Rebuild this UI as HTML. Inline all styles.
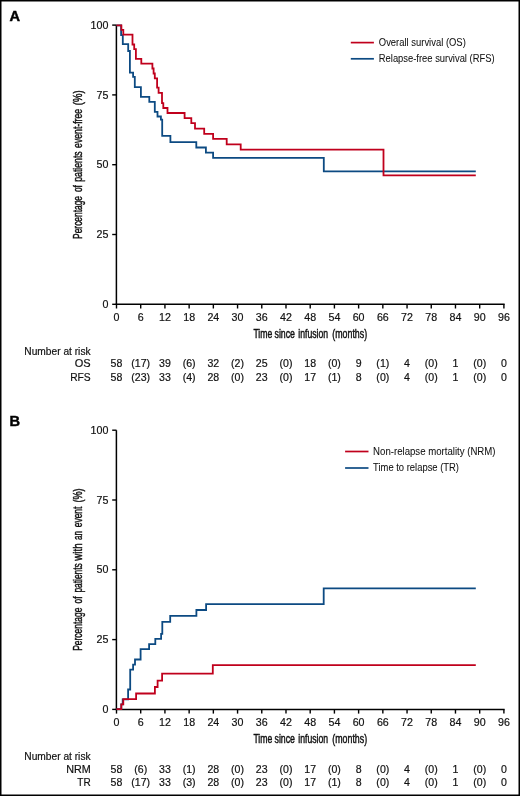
<!DOCTYPE html>
<html><head><meta charset="utf-8"><style>
html,body{margin:0;padding:0;background:#fff;}
svg{display:block;will-change:transform;}
text{font-family:"Liberation Sans", sans-serif;fill:#111;stroke:#111;stroke-width:0.18px;}
</style></head><body>
<svg width="520" height="796" viewBox="0 0 520 796">
<rect x="0" y="0" width="520" height="796" fill="#fff"/>
<text x="9.5" y="21.10" font-size="14.6" font-weight="bold" style="fill:#000;stroke:#000;stroke-width:0.45px">A</text>
<path d="M116.40,25.10 V304.30" stroke="#000" stroke-width="1.5" fill="none"/>
<path d="M115.65,304.30 H504.65" stroke="#000" stroke-width="1.5" fill="none"/>
<path d="M112.2,25.10 H116.50" stroke="#000" stroke-width="1.4"/>
<text transform="translate(108.40,28.70) scale(1.07,1)" font-size="10" text-anchor="end">100</text>
<path d="M112.2,94.90 H116.50" stroke="#000" stroke-width="1.4"/>
<text transform="translate(108.40,98.50) scale(1.07,1)" font-size="10" text-anchor="end">75</text>
<path d="M112.2,164.70 H116.50" stroke="#000" stroke-width="1.4"/>
<text transform="translate(108.40,168.30) scale(1.07,1)" font-size="10" text-anchor="end">50</text>
<path d="M112.2,234.50 H116.50" stroke="#000" stroke-width="1.4"/>
<text transform="translate(108.40,238.10) scale(1.07,1)" font-size="10" text-anchor="end">25</text>
<path d="M112.2,304.30 H116.50" stroke="#000" stroke-width="1.4"/>
<text transform="translate(108.40,307.90) scale(1.07,1)" font-size="10" text-anchor="end">0</text>
<path d="M116.50,304.30 V308.50" stroke="#000" stroke-width="1.4"/>
<text transform="translate(116.50,321.00) scale(1.07,1)" font-size="10" text-anchor="middle">0</text>
<path d="M140.71,304.30 V308.50" stroke="#000" stroke-width="1.4"/>
<text transform="translate(140.71,321.00) scale(1.07,1)" font-size="10" text-anchor="middle">6</text>
<path d="M164.93,304.30 V308.50" stroke="#000" stroke-width="1.4"/>
<text transform="translate(164.93,321.00) scale(1.07,1)" font-size="10" text-anchor="middle">12</text>
<path d="M189.14,304.30 V308.50" stroke="#000" stroke-width="1.4"/>
<text transform="translate(189.14,321.00) scale(1.07,1)" font-size="10" text-anchor="middle">18</text>
<path d="M213.35,304.30 V308.50" stroke="#000" stroke-width="1.4"/>
<text transform="translate(213.35,321.00) scale(1.07,1)" font-size="10" text-anchor="middle">24</text>
<path d="M237.56,304.30 V308.50" stroke="#000" stroke-width="1.4"/>
<text transform="translate(237.56,321.00) scale(1.07,1)" font-size="10" text-anchor="middle">30</text>
<path d="M261.77,304.30 V308.50" stroke="#000" stroke-width="1.4"/>
<text transform="translate(261.77,321.00) scale(1.07,1)" font-size="10" text-anchor="middle">36</text>
<path d="M285.99,304.30 V308.50" stroke="#000" stroke-width="1.4"/>
<text transform="translate(285.99,321.00) scale(1.07,1)" font-size="10" text-anchor="middle">42</text>
<path d="M310.20,304.30 V308.50" stroke="#000" stroke-width="1.4"/>
<text transform="translate(310.20,321.00) scale(1.07,1)" font-size="10" text-anchor="middle">48</text>
<path d="M334.41,304.30 V308.50" stroke="#000" stroke-width="1.4"/>
<text transform="translate(334.41,321.00) scale(1.07,1)" font-size="10" text-anchor="middle">54</text>
<path d="M358.62,304.30 V308.50" stroke="#000" stroke-width="1.4"/>
<text transform="translate(358.62,321.00) scale(1.07,1)" font-size="10" text-anchor="middle">60</text>
<path d="M382.84,304.30 V308.50" stroke="#000" stroke-width="1.4"/>
<text transform="translate(382.84,321.00) scale(1.07,1)" font-size="10" text-anchor="middle">66</text>
<path d="M407.05,304.30 V308.50" stroke="#000" stroke-width="1.4"/>
<text transform="translate(407.05,321.00) scale(1.07,1)" font-size="10" text-anchor="middle">72</text>
<path d="M431.26,304.30 V308.50" stroke="#000" stroke-width="1.4"/>
<text transform="translate(431.26,321.00) scale(1.07,1)" font-size="10" text-anchor="middle">78</text>
<path d="M455.47,304.30 V308.50" stroke="#000" stroke-width="1.4"/>
<text transform="translate(455.47,321.00) scale(1.07,1)" font-size="10" text-anchor="middle">84</text>
<path d="M479.69,304.30 V308.50" stroke="#000" stroke-width="1.4"/>
<text transform="translate(479.69,321.00) scale(1.07,1)" font-size="10" text-anchor="middle">90</text>
<path d="M503.90,304.30 V308.50" stroke="#000" stroke-width="1.4"/>
<text transform="translate(503.90,321.00) scale(1.07,1)" font-size="10" text-anchor="middle">96</text>
<text x="253.40" y="337.70" font-size="12.1" style="stroke-width:0.45px" textLength="18.90" lengthAdjust="spacingAndGlyphs">Time</text>
<text x="274.50" y="337.70" font-size="12.1" style="stroke-width:0.45px" textLength="20.50" lengthAdjust="spacingAndGlyphs">since</text>
<text x="298.30" y="337.70" font-size="12.1" style="stroke-width:0.45px" textLength="29.80" lengthAdjust="spacingAndGlyphs">infusion</text>
<text x="332.30" y="337.70" font-size="12.1" style="stroke-width:0.45px" textLength="34.80" lengthAdjust="spacingAndGlyphs">(months)</text>
<text transform="translate(81.7,238.90) rotate(-90)" font-size="12.1" style="stroke-width:0.45px" textLength="42.90" lengthAdjust="spacingAndGlyphs">Percentage</text>
<text transform="translate(81.7,192.10) rotate(-90)" font-size="12.1" style="stroke-width:0.45px" textLength="7.00" lengthAdjust="spacingAndGlyphs">of</text>
<text transform="translate(81.7,181.80) rotate(-90)" font-size="12.1" style="stroke-width:0.45px" textLength="30.50" lengthAdjust="spacingAndGlyphs">patients</text>
<text transform="translate(81.7,147.90) rotate(-90)" font-size="12.1" style="stroke-width:0.45px" textLength="39.00" lengthAdjust="spacingAndGlyphs">event-free</text>
<text transform="translate(81.7,105.30) rotate(-90)" font-size="12.1" style="stroke-width:0.45px" textLength="14.90" lengthAdjust="spacingAndGlyphs">(%)</text>
<path d="M116.4,25.3 H121.1 V35.2 H122.8 V44.2 H128.2 V51.0 H129.9 V72.7 H133.1 V76.9 H134.8 V87.1 H140.9 V96.9 H149.3 V101.9 H154.8 V111.9 H157.5 V116.5 H160.9 V119.6 H162.2 V135.9 H170.4 V142.2 H196.3 V147.5 H205.9 V152.6 H213.1 V157.9 H323.8 V171.3 H475.8" stroke="#0c4a82" stroke-width="1.8" fill="none"/>
<path d="M116.4,25.3 H121.4 V29.9 H123.3 V34.7 H132.5 V44.5 H134.2 V49.2 H135.9 V58.8 H141.3 V63.7 H152.4 V68.5 H153.6 V73.5 H154.8 V78.3 H157.1 V87.7 H158.6 V92.8 H162.0 V103.1 H163.3 V108.0 H167.5 V113.0 H184.6 V118.1 H191.3 V123.1 H195.0 V128.6 H204.2 V133.8 H213.1 V138.8 H226.7 V144.3 H240.7 V149.6 H383.5 V175.4 H475.8" stroke="#c0001c" stroke-width="1.8" fill="none"/>
<path d="M350.8,42.60 H373.9" stroke="#c0001c" stroke-width="1.7"/>
<text x="378.8" y="45.60" font-size="10" style="stroke-width:0.05px" textLength="87.0" lengthAdjust="spacingAndGlyphs">Overall survival (OS)</text>
<path d="M350.8,58.80 H373.9" stroke="#0c4a82" stroke-width="1.7"/>
<text x="378.8" y="61.70" font-size="10" style="stroke-width:0.05px" textLength="115.8" lengthAdjust="spacingAndGlyphs">Relapse-free survival (RFS)</text>
<text transform="translate(24.30,354.90) scale(1.02,1)" font-size="10">Number at risk</text>
<text transform="translate(90.70,367.40) scale(1.1,1)" font-size="10" text-anchor="end">OS</text>
<text transform="translate(116.50,367.40) scale(1.06,1)" font-size="10" text-anchor="middle">58</text>
<text transform="translate(140.71,367.40) scale(1.06,1)" font-size="10" text-anchor="middle">(17)</text>
<text transform="translate(164.93,367.40) scale(1.06,1)" font-size="10" text-anchor="middle">39</text>
<text transform="translate(189.14,367.40) scale(1.06,1)" font-size="10" text-anchor="middle">(6)</text>
<text transform="translate(213.35,367.40) scale(1.06,1)" font-size="10" text-anchor="middle">32</text>
<text transform="translate(237.56,367.40) scale(1.06,1)" font-size="10" text-anchor="middle">(2)</text>
<text transform="translate(261.77,367.40) scale(1.06,1)" font-size="10" text-anchor="middle">25</text>
<text transform="translate(285.99,367.40) scale(1.06,1)" font-size="10" text-anchor="middle">(0)</text>
<text transform="translate(310.20,367.40) scale(1.06,1)" font-size="10" text-anchor="middle">18</text>
<text transform="translate(334.41,367.40) scale(1.06,1)" font-size="10" text-anchor="middle">(0)</text>
<text transform="translate(358.62,367.40) scale(1.06,1)" font-size="10" text-anchor="middle">9</text>
<text transform="translate(382.84,367.40) scale(1.06,1)" font-size="10" text-anchor="middle">(1)</text>
<text transform="translate(407.05,367.40) scale(1.06,1)" font-size="10" text-anchor="middle">4</text>
<text transform="translate(431.26,367.40) scale(1.06,1)" font-size="10" text-anchor="middle">(0)</text>
<text transform="translate(455.47,367.40) scale(1.06,1)" font-size="10" text-anchor="middle">1</text>
<text transform="translate(479.69,367.40) scale(1.06,1)" font-size="10" text-anchor="middle">(0)</text>
<text transform="translate(503.90,367.40) scale(1.06,1)" font-size="10" text-anchor="middle">0</text>
<text transform="translate(90.70,380.70) scale(1.026,1)" font-size="10" text-anchor="end">RFS</text>
<text transform="translate(116.50,380.70) scale(1.06,1)" font-size="10" text-anchor="middle">58</text>
<text transform="translate(140.71,380.70) scale(1.06,1)" font-size="10" text-anchor="middle">(23)</text>
<text transform="translate(164.93,380.70) scale(1.06,1)" font-size="10" text-anchor="middle">33</text>
<text transform="translate(189.14,380.70) scale(1.06,1)" font-size="10" text-anchor="middle">(4)</text>
<text transform="translate(213.35,380.70) scale(1.06,1)" font-size="10" text-anchor="middle">28</text>
<text transform="translate(237.56,380.70) scale(1.06,1)" font-size="10" text-anchor="middle">(0)</text>
<text transform="translate(261.77,380.70) scale(1.06,1)" font-size="10" text-anchor="middle">23</text>
<text transform="translate(285.99,380.70) scale(1.06,1)" font-size="10" text-anchor="middle">(0)</text>
<text transform="translate(310.20,380.70) scale(1.06,1)" font-size="10" text-anchor="middle">17</text>
<text transform="translate(334.41,380.70) scale(1.06,1)" font-size="10" text-anchor="middle">(1)</text>
<text transform="translate(358.62,380.70) scale(1.06,1)" font-size="10" text-anchor="middle">8</text>
<text transform="translate(382.84,380.70) scale(1.06,1)" font-size="10" text-anchor="middle">(0)</text>
<text transform="translate(407.05,380.70) scale(1.06,1)" font-size="10" text-anchor="middle">4</text>
<text transform="translate(431.26,380.70) scale(1.06,1)" font-size="10" text-anchor="middle">(0)</text>
<text transform="translate(455.47,380.70) scale(1.06,1)" font-size="10" text-anchor="middle">1</text>
<text transform="translate(479.69,380.70) scale(1.06,1)" font-size="10" text-anchor="middle">(0)</text>
<text transform="translate(503.90,380.70) scale(1.06,1)" font-size="10" text-anchor="middle">0</text>
<text x="9.5" y="426.20" font-size="14.6" font-weight="bold" style="fill:#000;stroke:#000;stroke-width:0.45px">B</text>
<path d="M116.40,430.20 V709.40" stroke="#000" stroke-width="1.5" fill="none"/>
<path d="M115.65,709.40 H504.65" stroke="#000" stroke-width="1.5" fill="none"/>
<path d="M112.2,430.20 H116.50" stroke="#000" stroke-width="1.4"/>
<text transform="translate(108.40,433.80) scale(1.07,1)" font-size="10" text-anchor="end">100</text>
<path d="M112.2,500.00 H116.50" stroke="#000" stroke-width="1.4"/>
<text transform="translate(108.40,503.60) scale(1.07,1)" font-size="10" text-anchor="end">75</text>
<path d="M112.2,569.80 H116.50" stroke="#000" stroke-width="1.4"/>
<text transform="translate(108.40,573.40) scale(1.07,1)" font-size="10" text-anchor="end">50</text>
<path d="M112.2,639.60 H116.50" stroke="#000" stroke-width="1.4"/>
<text transform="translate(108.40,643.20) scale(1.07,1)" font-size="10" text-anchor="end">25</text>
<path d="M112.2,709.40 H116.50" stroke="#000" stroke-width="1.4"/>
<text transform="translate(108.40,713.00) scale(1.07,1)" font-size="10" text-anchor="end">0</text>
<path d="M116.50,709.40 V713.60" stroke="#000" stroke-width="1.4"/>
<text transform="translate(116.50,726.10) scale(1.07,1)" font-size="10" text-anchor="middle">0</text>
<path d="M140.71,709.40 V713.60" stroke="#000" stroke-width="1.4"/>
<text transform="translate(140.71,726.10) scale(1.07,1)" font-size="10" text-anchor="middle">6</text>
<path d="M164.93,709.40 V713.60" stroke="#000" stroke-width="1.4"/>
<text transform="translate(164.93,726.10) scale(1.07,1)" font-size="10" text-anchor="middle">12</text>
<path d="M189.14,709.40 V713.60" stroke="#000" stroke-width="1.4"/>
<text transform="translate(189.14,726.10) scale(1.07,1)" font-size="10" text-anchor="middle">18</text>
<path d="M213.35,709.40 V713.60" stroke="#000" stroke-width="1.4"/>
<text transform="translate(213.35,726.10) scale(1.07,1)" font-size="10" text-anchor="middle">24</text>
<path d="M237.56,709.40 V713.60" stroke="#000" stroke-width="1.4"/>
<text transform="translate(237.56,726.10) scale(1.07,1)" font-size="10" text-anchor="middle">30</text>
<path d="M261.77,709.40 V713.60" stroke="#000" stroke-width="1.4"/>
<text transform="translate(261.77,726.10) scale(1.07,1)" font-size="10" text-anchor="middle">36</text>
<path d="M285.99,709.40 V713.60" stroke="#000" stroke-width="1.4"/>
<text transform="translate(285.99,726.10) scale(1.07,1)" font-size="10" text-anchor="middle">42</text>
<path d="M310.20,709.40 V713.60" stroke="#000" stroke-width="1.4"/>
<text transform="translate(310.20,726.10) scale(1.07,1)" font-size="10" text-anchor="middle">48</text>
<path d="M334.41,709.40 V713.60" stroke="#000" stroke-width="1.4"/>
<text transform="translate(334.41,726.10) scale(1.07,1)" font-size="10" text-anchor="middle">54</text>
<path d="M358.62,709.40 V713.60" stroke="#000" stroke-width="1.4"/>
<text transform="translate(358.62,726.10) scale(1.07,1)" font-size="10" text-anchor="middle">60</text>
<path d="M382.84,709.40 V713.60" stroke="#000" stroke-width="1.4"/>
<text transform="translate(382.84,726.10) scale(1.07,1)" font-size="10" text-anchor="middle">66</text>
<path d="M407.05,709.40 V713.60" stroke="#000" stroke-width="1.4"/>
<text transform="translate(407.05,726.10) scale(1.07,1)" font-size="10" text-anchor="middle">72</text>
<path d="M431.26,709.40 V713.60" stroke="#000" stroke-width="1.4"/>
<text transform="translate(431.26,726.10) scale(1.07,1)" font-size="10" text-anchor="middle">78</text>
<path d="M455.47,709.40 V713.60" stroke="#000" stroke-width="1.4"/>
<text transform="translate(455.47,726.10) scale(1.07,1)" font-size="10" text-anchor="middle">84</text>
<path d="M479.69,709.40 V713.60" stroke="#000" stroke-width="1.4"/>
<text transform="translate(479.69,726.10) scale(1.07,1)" font-size="10" text-anchor="middle">90</text>
<path d="M503.90,709.40 V713.60" stroke="#000" stroke-width="1.4"/>
<text transform="translate(503.90,726.10) scale(1.07,1)" font-size="10" text-anchor="middle">96</text>
<text x="253.40" y="742.80" font-size="12.1" style="stroke-width:0.45px" textLength="18.90" lengthAdjust="spacingAndGlyphs">Time</text>
<text x="274.50" y="742.80" font-size="12.1" style="stroke-width:0.45px" textLength="20.50" lengthAdjust="spacingAndGlyphs">since</text>
<text x="298.30" y="742.80" font-size="12.1" style="stroke-width:0.45px" textLength="29.80" lengthAdjust="spacingAndGlyphs">infusion</text>
<text x="332.30" y="742.80" font-size="12.1" style="stroke-width:0.45px" textLength="34.80" lengthAdjust="spacingAndGlyphs">(months)</text>
<text transform="translate(81.7,650.80) rotate(-90)" font-size="12.1" style="stroke-width:0.45px" textLength="43.20" lengthAdjust="spacingAndGlyphs">Percentage</text>
<text transform="translate(81.7,603.50) rotate(-90)" font-size="12.1" style="stroke-width:0.45px" textLength="7.00" lengthAdjust="spacingAndGlyphs">of</text>
<text transform="translate(81.7,592.60) rotate(-90)" font-size="12.1" style="stroke-width:0.45px" textLength="29.40" lengthAdjust="spacingAndGlyphs">patients</text>
<text transform="translate(81.7,560.70) rotate(-90)" font-size="12.1" style="stroke-width:0.45px" textLength="17.40" lengthAdjust="spacingAndGlyphs">with</text>
<text transform="translate(81.7,540.00) rotate(-90)" font-size="12.1" style="stroke-width:0.45px" textLength="9.00" lengthAdjust="spacingAndGlyphs">an</text>
<text transform="translate(81.7,527.30) rotate(-90)" font-size="12.1" style="stroke-width:0.45px" textLength="20.70" lengthAdjust="spacingAndGlyphs">event</text>
<text transform="translate(81.7,502.50) rotate(-90)" font-size="12.1" style="stroke-width:0.45px" textLength="14.10" lengthAdjust="spacingAndGlyphs">(%)</text>
<path d="M116.4,709.2 H121.3 V704.4 H122.7 V699.3 H128.1 V689.5 H130.2 V669.6 H133.1 V664.6 H135.0 V659.5 H140.6 V649.2 H149.1 V644.1 H155.3 V638.8 H161.1 V633.8 H162.3 V621.9 H170.2 V615.9 H196.4 V610.0 H206.1 V604.1 H323.7 V588.4 H475.8" stroke="#0c4a82" stroke-width="1.8" fill="none"/>
<path d="M116.4,709.2 H121.3 V704.4 H123.3 V699.2 H136.1 V693.5 H154.9 V687.0 H157.6 V680.7 H162.1 V673.7 H212.8 V665.2 H475.8" stroke="#c0001c" stroke-width="1.8" fill="none"/>
<path d="M345.1,451.50 H368.5" stroke="#c0001c" stroke-width="1.7"/>
<text x="373.1" y="455.10" font-size="10" style="stroke-width:0.05px" textLength="122.4" lengthAdjust="spacingAndGlyphs">Non-relapse mortality (NRM)</text>
<path d="M345.1,468.00 H368.5" stroke="#0c4a82" stroke-width="1.7"/>
<text x="373.1" y="471.20" font-size="10" style="stroke-width:0.05px" textLength="85.9" lengthAdjust="spacingAndGlyphs">Time to relapse (TR)</text>
<text transform="translate(24.30,760.00) scale(1.02,1)" font-size="10">Number at risk</text>
<text transform="translate(90.70,772.50) scale(1.08,1)" font-size="10" text-anchor="end">NRM</text>
<text transform="translate(116.50,772.50) scale(1.06,1)" font-size="10" text-anchor="middle">58</text>
<text transform="translate(140.71,772.50) scale(1.06,1)" font-size="10" text-anchor="middle">(6)</text>
<text transform="translate(164.93,772.50) scale(1.06,1)" font-size="10" text-anchor="middle">33</text>
<text transform="translate(189.14,772.50) scale(1.06,1)" font-size="10" text-anchor="middle">(1)</text>
<text transform="translate(213.35,772.50) scale(1.06,1)" font-size="10" text-anchor="middle">28</text>
<text transform="translate(237.56,772.50) scale(1.06,1)" font-size="10" text-anchor="middle">(0)</text>
<text transform="translate(261.77,772.50) scale(1.06,1)" font-size="10" text-anchor="middle">23</text>
<text transform="translate(285.99,772.50) scale(1.06,1)" font-size="10" text-anchor="middle">(0)</text>
<text transform="translate(310.20,772.50) scale(1.06,1)" font-size="10" text-anchor="middle">17</text>
<text transform="translate(334.41,772.50) scale(1.06,1)" font-size="10" text-anchor="middle">(0)</text>
<text transform="translate(358.62,772.50) scale(1.06,1)" font-size="10" text-anchor="middle">8</text>
<text transform="translate(382.84,772.50) scale(1.06,1)" font-size="10" text-anchor="middle">(0)</text>
<text transform="translate(407.05,772.50) scale(1.06,1)" font-size="10" text-anchor="middle">4</text>
<text transform="translate(431.26,772.50) scale(1.06,1)" font-size="10" text-anchor="middle">(0)</text>
<text transform="translate(455.47,772.50) scale(1.06,1)" font-size="10" text-anchor="middle">1</text>
<text transform="translate(479.69,772.50) scale(1.06,1)" font-size="10" text-anchor="middle">(0)</text>
<text transform="translate(503.90,772.50) scale(1.06,1)" font-size="10" text-anchor="middle">0</text>
<text x="90.70" y="785.80" font-size="10" text-anchor="end">TR</text>
<text transform="translate(116.50,785.80) scale(1.06,1)" font-size="10" text-anchor="middle">58</text>
<text transform="translate(140.71,785.80) scale(1.06,1)" font-size="10" text-anchor="middle">(17)</text>
<text transform="translate(164.93,785.80) scale(1.06,1)" font-size="10" text-anchor="middle">33</text>
<text transform="translate(189.14,785.80) scale(1.06,1)" font-size="10" text-anchor="middle">(3)</text>
<text transform="translate(213.35,785.80) scale(1.06,1)" font-size="10" text-anchor="middle">28</text>
<text transform="translate(237.56,785.80) scale(1.06,1)" font-size="10" text-anchor="middle">(0)</text>
<text transform="translate(261.77,785.80) scale(1.06,1)" font-size="10" text-anchor="middle">23</text>
<text transform="translate(285.99,785.80) scale(1.06,1)" font-size="10" text-anchor="middle">(0)</text>
<text transform="translate(310.20,785.80) scale(1.06,1)" font-size="10" text-anchor="middle">17</text>
<text transform="translate(334.41,785.80) scale(1.06,1)" font-size="10" text-anchor="middle">(1)</text>
<text transform="translate(358.62,785.80) scale(1.06,1)" font-size="10" text-anchor="middle">8</text>
<text transform="translate(382.84,785.80) scale(1.06,1)" font-size="10" text-anchor="middle">(0)</text>
<text transform="translate(407.05,785.80) scale(1.06,1)" font-size="10" text-anchor="middle">4</text>
<text transform="translate(431.26,785.80) scale(1.06,1)" font-size="10" text-anchor="middle">(0)</text>
<text transform="translate(455.47,785.80) scale(1.06,1)" font-size="10" text-anchor="middle">1</text>
<text transform="translate(479.69,785.80) scale(1.06,1)" font-size="10" text-anchor="middle">(0)</text>
<text transform="translate(503.90,785.80) scale(1.06,1)" font-size="10" text-anchor="middle">0</text>
<rect x="0" y="0" width="520" height="1.5" fill="#000"/>
<rect x="0" y="0" width="1.5" height="796" fill="#000"/>
<rect x="518.5" y="0" width="1.5" height="796" fill="#000"/>
<rect x="0" y="794.5" width="520" height="1.5" fill="#000"/>
</svg>
</body></html>
